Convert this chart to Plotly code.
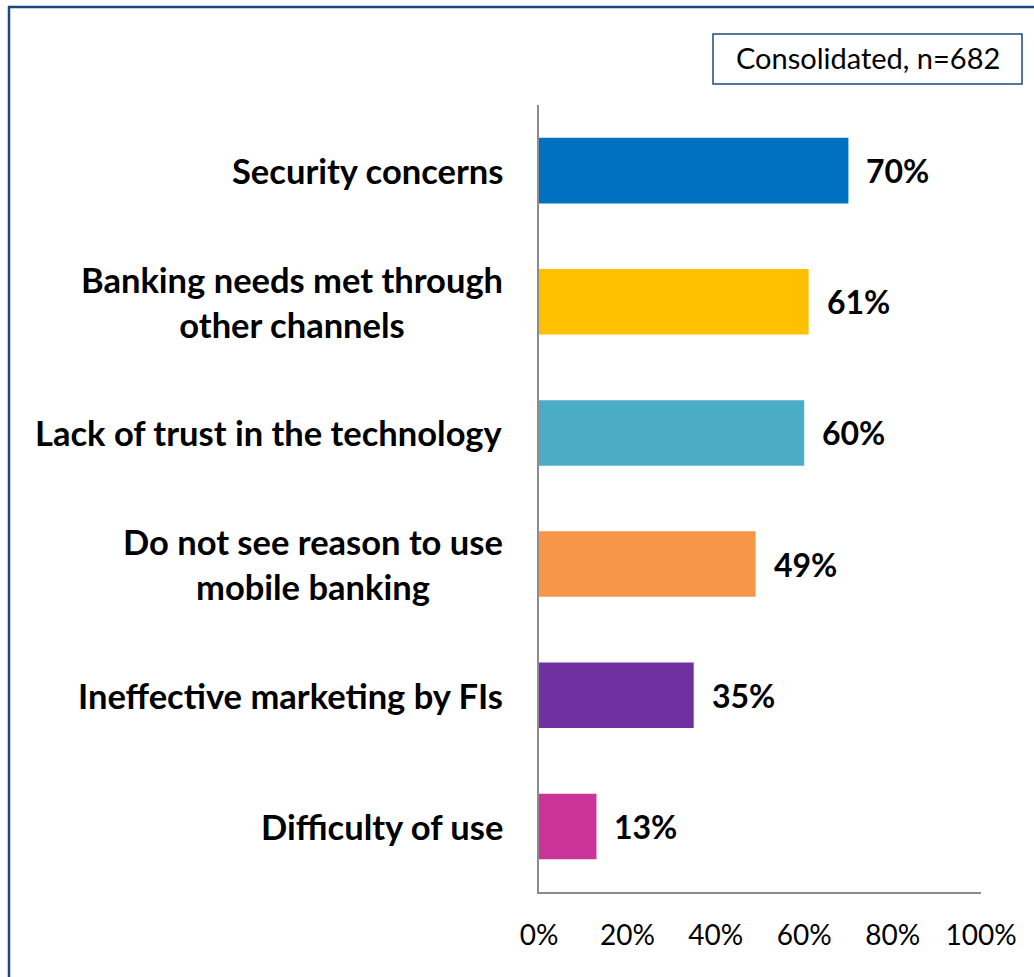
import plotly.graph_objects as go

# Reasons for not using mobile banking (share of respondents, %)
categories = [
    "Security concerns",
    "Banking needs met through<br>other channels",
    "Lack of trust in the technology",
    "Do not see reason to use<br>mobile banking",
    "Ineffective marketing by FIs",
    "Difficulty of use",
]
values = [70, 61, 60, 49, 35, 13]
value_labels = ["70%", "61%", "60%", "49%", "35%", "13%"]
bar_colors = ["#0070C0", "#FFC000", "#4BACC6", "#F79646", "#7030A0", "#CC3399"]
tick_values = [0, 20, 40, 60, 80, 100]
tick_labels = ["0%", "20%", "40%", "60%", "80%", "100%"]
sample_note = "Consolidated, n=682"

W, H = 1034, 977
L, R, T, B = 539, 53, 105, 85
PW, PH = W - L - R, H - T - B


def px_x(p):
    return (p - L) / PW


def px_y(p):
    return 1 - (p - T) / PH


FONT = "Lato"
FRAME = "#1F497D"
AXIS = "#8C8C8C"

fig = go.Figure(
    go.Bar(
        x=values,
        y=categories,
        orientation="h",
        marker=dict(color=bar_colors, line=dict(width=0)),
        width=0.5,
        hoverinfo="skip",
    )
)

annotations = []
# Category names, centred lines, right-aligned next to the axis
for cat in categories:
    annotations.append(dict(
        x=0, y=cat, xref="paper", yref="y",
        text=f"<b>{cat}</b>", showarrow=False,
        xanchor="right", yanchor="middle", align="center",
        xshift=-34,
        font=dict(family=FONT, size=34.5, color="#000000"),
    ))
# Value labels at the end of each bar
for cat, v, lab in zip(categories, values, value_labels):
    annotations.append(dict(
        x=v, y=cat, xref="x", yref="y",
        text=f"<b>{lab}</b>", showarrow=False,
        xanchor="left", yanchor="middle", xshift=16,
        font=dict(family=FONT, size=32, color="#000000"),
    ))
# Sample size note inside its box
annotations.append(dict(
    x=px_x(867.5), y=px_y(58), xref="paper", yref="paper",
    text=sample_note, showarrow=False,
    xanchor="center", yanchor="middle",
    font=dict(family=FONT, size=29, color="#000000"),
))

shapes = [
    # box around the sample note
    dict(type="rect", xref="paper", yref="paper",
         x0=px_x(713), x1=px_x(1022), y0=px_y(84), y1=px_y(34),
         line=dict(color=FRAME, width=1.5), fillcolor="rgba(0,0,0,0)"),
    # outer frame: top and left edges
    dict(type="line", xref="paper", yref="paper",
         x0=px_x(8), x1=px_x(1040), y0=px_y(7), y1=px_y(7),
         line=dict(color=FRAME, width=2.5)),
    dict(type="line", xref="paper", yref="paper",
         x0=px_x(9), x1=px_x(9), y0=px_y(6), y1=px_y(985),
         line=dict(color=FRAME, width=2.5)),
]

fig.update_layout(
    width=W, height=H,
    margin=dict(l=L, r=R, t=T, b=B, autoexpand=False),
    paper_bgcolor="#FFFFFF",
    plot_bgcolor="#FFFFFF",
    showlegend=False,
    bargap=0.5,
    annotations=annotations,
    shapes=shapes,
    xaxis=dict(
        range=[0, 100],
        tickvals=tick_values,
        ticktext=tick_labels,
        showgrid=False,
        zeroline=False,
        showline=True,
        linecolor=AXIS,
        linewidth=2,
        ticks="",
        ticklabelstandoff=17,
        tickfont=dict(family=FONT, size=28, color="#000000"),
        fixedrange=True,
    ),
    yaxis=dict(
        autorange="reversed",
        showticklabels=False,
        showgrid=False,
        zeroline=False,
        showline=True,
        linecolor=AXIS,
        linewidth=2,
        ticks="",
        fixedrange=True,
    ),
)

fig.write_html("out.html")
